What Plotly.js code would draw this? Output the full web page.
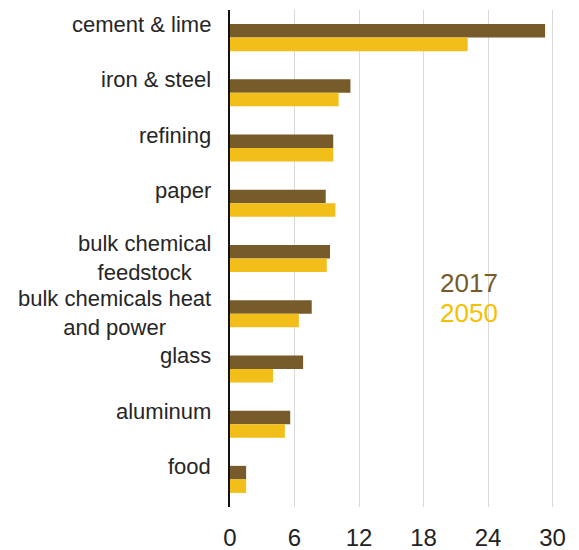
<!DOCTYPE html>
<html>
<head>
<meta charset="utf-8">
<script src="https://cdn.plot.ly/plotly-3.0.1.min.js"></script>
<style>html,body{margin:0;padding:0;background:#fff;}#chart{width:579px;height:550px;}</style>
</head>
<body>
<div id="chart"></div>
<script>
const categories = ["cement & lime", "iron & steel", "refining", "paper", "bulk chemical<br>feedstock", "bulk chemicals heat<br>and power", "glass", "aluminum", "food"];
const values2017 = [29.3, 11.2, 9.6, 8.9, 9.3, 7.6, 6.8, 5.6, 1.5];
const values2050 = [22.1, 10.1, 9.6, 9.8, 9.0, 6.4, 4.0, 5.1, 1.5];
const xTicks = [0, 6, 12, 18, 24, 30];
const seriesNames = ["2017", "2050"];
const colors = ["#775b2a", "#f2be1a"];

const traces = [
  {type: "bar", orientation: "h", y: categories, x: values2017, name: seriesNames[0], marker: {color: colors[0]}},
  {type: "bar", orientation: "h", y: categories, x: values2050, name: seriesNames[1], marker: {color: colors[1]}}
];

const labelAnnotations = categories.map(c => {
  const twoLines = c.indexOf("<br>") >= 0;
  return {
    xref: "paper", yref: "y", x: 0, y: c, xanchor: "right", yanchor: "middle",
    xshift: -17, yshift: twoLines ? 1 : 13,
    text: c, align: "center", showarrow: false,
    font: {size: 22, color: "#262626"}
  };
});

const layout = {
  width: 579, height: 550,
  margin: {l: 230, r: 21, t: 10, b: 43},
  barmode: "group", bargap: 0.51, bargroupgap: 0,
  showlegend: false,
  paper_bgcolor: "#fff", plot_bgcolor: "#fff",
  font: {family: "Liberation Sans, Arial, sans-serif"},
  xaxis: {
    range: [0, 30.5], tickvals: xTicks, ticktext: xTicks.map(String),
    showgrid: true, gridcolor: "#d9d9d9", gridwidth: 1, zeroline: false,
    showline: false, ticks: "", ticklabelstandoff: 14,
    tickfont: {size: 24, color: "#222"}
  },
  yaxis: {
    autorange: "reversed", showgrid: false, zeroline: false,
    showline: true, linecolor: "#111", linewidth: 2.5, ticks: "",
    showticklabels: false
  },
  annotations: labelAnnotations.concat([
    {xref: "paper", yref: "paper", x: 0.633, y: 0.45, xanchor: "left", yanchor: "middle", text: seriesNames[0], showarrow: false, font: {size: 26, color: colors[0]}},
    {xref: "paper", yref: "paper", x: 0.633, y: 0.39, xanchor: "left", yanchor: "middle", text: seriesNames[1], showarrow: false, font: {size: 26, color: "#f5c000"}}
  ])
};

Plotly.newPlot("chart", traces, layout, {displayModeBar: false, staticPlot: true});
</script>
</body>
</html>
